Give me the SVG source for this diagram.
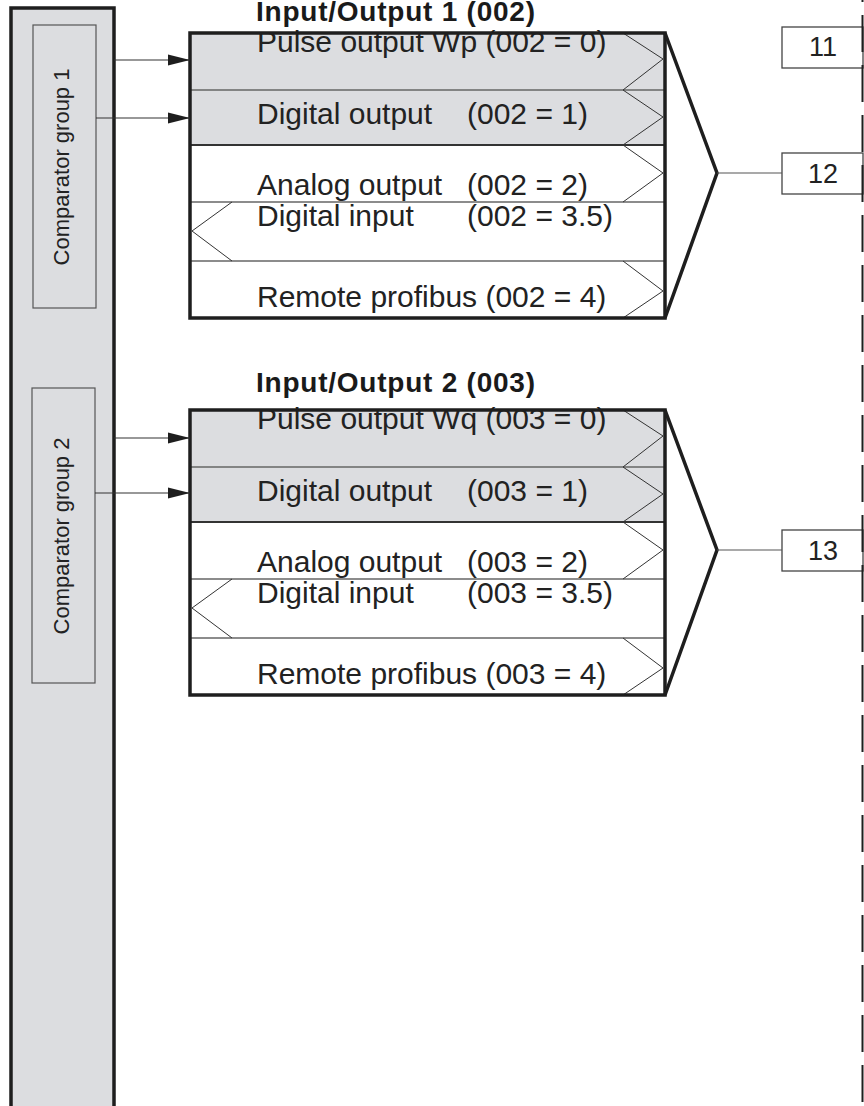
<svg xmlns="http://www.w3.org/2000/svg" width="864" height="1106" viewBox="0 0 864 1106">
<defs>
<style>
.shade{fill:#dcdde0}
.txt{font-family:"Liberation Sans",Arial,sans-serif;font-size:30px;fill:#222}
.ttl{font-family:"Liberation Sans",Arial,sans-serif;font-size:28px;font-weight:bold;fill:#1a1a1a}
.cmp{font-family:"Liberation Sans",Arial,sans-serif;font-size:22px;fill:#222}
.num{font-family:"Liberation Sans",Arial,sans-serif;font-size:27px;fill:#222}
.sep{stroke:#666;stroke-width:1.5;fill:none}
.sepd{stroke:#333;stroke-width:1.8;fill:none}
.chev{stroke:#333;stroke-width:1;fill:none}
.frame{stroke:#1e1e1e;stroke-width:3.5;fill:none}
.big{stroke:#1e1e1e;stroke-width:3.5;fill:none;stroke-linejoin:miter}
.thin{stroke:#555;stroke-width:1.2;fill:none}
.conn{stroke:#333;stroke-width:1.2;fill:none}
</style>
<marker id="arr" markerUnits="userSpaceOnUse" markerWidth="22" markerHeight="12" refX="22" refY="6" orient="auto">
<path d="M0,0.5 L22,6 L0,11.5 z" fill="#1e1e1e"/>
</marker>
</defs>
<rect width="864" height="1106" fill="#fff"/>

<g id="left-panel">
<rect x="11" y="8" width="103" height="1120" class="shade" stroke="#1e1e1e" stroke-width="3.5"/>
</g>

<g id="comparator-group-1">
<rect x="33" y="25" width="63" height="283" class="shade" stroke="#555" stroke-width="1.2"/>
<text class="cmp" transform="translate(69,167) rotate(-90)" text-anchor="middle">Comparator group 1</text>
</g>

<g id="comparator-group-2">
<rect x="32" y="388" width="63" height="295" class="shade" stroke="#555" stroke-width="1.2"/>
<text class="cmp" transform="translate(69,536) rotate(-90)" text-anchor="middle">Comparator group 2</text>
</g>

<g id="io1">
<text class="ttl" x="256" y="21" textLength="279" lengthAdjust="spacing">Input/Output 1 (002)</text>
<rect x="190" y="33" width="475" height="112" class="shade"/>
<text class="txt" x="257" y="52">Pulse output Wp (002 = 0)</text>
<text class="txt" y="124"><tspan x="257">Digital output</tspan><tspan x="467">(002 = 1)</tspan></text>
<text class="txt" y="195"><tspan x="257">Analog output</tspan><tspan x="467">(002 = 2)</tspan></text>
<text class="txt" y="226"><tspan x="257">Digital input</tspan><tspan x="467">(002 = 3.5)</tspan></text>
<text class="txt" x="257" y="307">Remote profibus (002 = 4)</text>
<line x1="190" y1="90" x2="665" y2="90" class="sep"/>
<line x1="190" y1="145" x2="665" y2="145" class="sepd"/>
<line x1="190" y1="202" x2="665" y2="202" class="sep"/>
<line x1="190" y1="261" x2="665" y2="261" class="sep"/>
<polyline points="623,33 663,59 623,90" class="chev"/>
<polyline points="623,90 663,117 623,145" class="chev"/>
<polyline points="623,145 663,173 623,202" class="chev"/>
<polyline points="232,202 192,231 232,261" class="chev"/>
<polyline points="623,261 663,291 623,318" class="chev"/>
<rect x="190" y="33" width="475" height="285" class="frame"/>
<polyline points="665,33 717,173 665,318" class="big"/>
</g>

<g id="io2">
<text class="ttl" x="256" y="392" textLength="279" lengthAdjust="spacing">Input/Output 2 (003)</text>
<rect x="190" y="410" width="475" height="112" class="shade"/>
<text class="txt" x="257" y="429">Pulse output Wq (003 = 0)</text>
<text class="txt" y="501"><tspan x="257">Digital output</tspan><tspan x="467">(003 = 1)</tspan></text>
<text class="txt" y="572"><tspan x="257">Analog output</tspan><tspan x="467">(003 = 2)</tspan></text>
<text class="txt" y="603"><tspan x="257">Digital input</tspan><tspan x="467">(003 = 3.5)</tspan></text>
<text class="txt" x="257" y="684">Remote profibus (003 = 4)</text>
<line x1="190" y1="467" x2="665" y2="467" class="sep"/>
<line x1="190" y1="522" x2="665" y2="522" class="sepd"/>
<line x1="190" y1="579" x2="665" y2="579" class="sep"/>
<line x1="190" y1="638" x2="665" y2="638" class="sep"/>
<polyline points="623,410 663,436 623,467" class="chev"/>
<polyline points="623,467 663,494 623,522" class="chev"/>
<polyline points="623,522 663,550 623,579" class="chev"/>
<polyline points="232,579 192,608 232,638" class="chev"/>
<polyline points="623,638 663,668 623,695" class="chev"/>
<rect x="190" y="410" width="475" height="285" class="frame"/>
<polyline points="665,410 717,550 665,695" class="big"/>
</g>

<g id="box11">
<rect x="782" y="27" width="81" height="41" fill="#fff" stroke="#444" stroke-width="1.3"/>
<text class="num" x="823" y="56" text-anchor="middle">11</text>
</g>
<g id="box12">
<rect x="782" y="153" width="81" height="41" fill="#fff" stroke="#444" stroke-width="1.3"/>
<text class="num" x="823" y="183" text-anchor="middle">12</text>
</g>
<g id="box13">
<rect x="782" y="530" width="81" height="41" fill="#fff" stroke="#444" stroke-width="1.3"/>
<text class="num" x="823" y="560" text-anchor="middle">13</text>
</g>

<g id="connectors">
<line x1="114" y1="60" x2="190" y2="60" class="conn" marker-end="url(#arr)"/>
<line x1="96" y1="118" x2="190" y2="118" class="conn" marker-end="url(#arr)"/>
<line x1="114" y1="438" x2="190" y2="438" class="conn" marker-end="url(#arr)"/>
<line x1="95" y1="493" x2="190" y2="493" class="conn" marker-end="url(#arr)"/>
<line x1="717" y1="173" x2="782" y2="173" class="thin"/>
<line x1="717" y1="550" x2="782" y2="550" class="thin"/>
<line x1="862.5" y1="0" x2="862.5" y2="1106" stroke="#1e1e1e" stroke-width="2" stroke-dasharray="37 13" stroke-dashoffset="35"/>
</g>
</svg>
